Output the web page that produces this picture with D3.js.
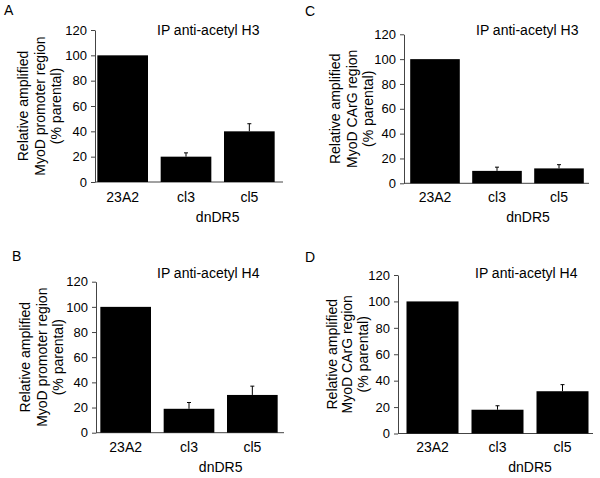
<!DOCTYPE html>
<html>
<head>
<meta charset="utf-8">
<script src="https://cdn.jsdelivr.net/npm/d3@7"></script>
<style>
  html, body { margin: 0; padding: 0; background: #fff; }
  svg { display: block; font-family: "Liberation Sans", Arial, sans-serif; }
</style>
</head>
<body>
<svg id="chart" width="600" height="478"></svg>
<script>
// ---- data ----
const categories = ["23A2", "cl3", "cl5"];
const yTicks = [0, 20, 40, 60, 80, 100, 120];
const groupLabel = "dnDR5";

const panelLetters = ["A", "B", "C", "D"];
const panelTitles = ["IP anti-acetyl H3", "IP anti-acetyl H4", "IP anti-acetyl H3", "IP anti-acetyl H4"];
const yLabelsPromoter = ["Relative amplified", "MyoD promoter region", "(% parental)"];
const yLabelsCArG = ["Relative amplified", "MyoD CArG region", "(% parental)"];

const valuesA = [100, 20, 40];
const errorsA = [0, 3, 6];
const valuesB = [100, 19, 30];
const errorsB = [0, 5, 7];
const valuesC = [100, 10, 12];
const errorsC = [0, 3, 3];
const valuesD = [100, 18, 32];
const errorsD = [0, 3, 5];

// ---- layout (positions only) ----
const layouts = [
  { letter: [4, 15],   y0: 182,   y1: 30,   axisX: 95,  axisEnd: 283, band: [91, 281],  title: [157, 35],  yl: [28, 45, 61],    catY: 202, grpY: 222 },
  { letter: [12, 261], y0: 432.7, y1: 281.7, axisX: 96, axisEnd: 284, band: [94, 284],  title: [157, 278], yl: [30, 47, 63],    catY: 452, grpY: 472 },
  { letter: [305, 16], y0: 183.3, y1: 34.3, axisX: 404, axisEnd: 589, band: [404, 590], title: [476, 35],  yl: [340, 357, 373], catY: 202, grpY: 222 },
  { letter: [305, 262], y0: 433.5, y1: 275, axisX: 398, axisEnd: 593, band: [400, 595], title: [475, 278], yl: [337, 352, 368], catY: 452, grpY: 472 }
];

const panels = [
  { values: valuesA, errors: errorsA, ylab: yLabelsPromoter },
  { values: valuesB, errors: errorsB, ylab: yLabelsPromoter },
  { values: valuesC, errors: errorsC, ylab: yLabelsCArG },
  { values: valuesD, errors: errorsD, ylab: yLabelsCArG }
];

const svg = d3.select("#chart");
const axisColor = "#444";

panels.forEach((p, i) => {
  const L = layouts[i];
  const g = svg.append("g");

  const x = d3.scaleBand().domain(categories).range(L.band).paddingInner(0.2).paddingOuter(0.1);
  const y = d3.scaleLinear().domain([0, 120]).range([L.y0, L.y1]);

  // panel letter
  g.append("text").attr("x", L.letter[0]).attr("y", L.letter[1])
    .attr("font-size", 14).attr("fill", "#000").text(panelLetters[i]);

  // title
  g.append("text").attr("x", L.title[0]).attr("y", L.title[1])
    .attr("font-size", 14).attr("fill", "#000").text(panelTitles[i]);

  // y axis
  const ax = g.append("g").attr("transform", `translate(${L.axisX},0)`)
    .call(d3.axisLeft(y).tickValues(yTicks).tickSize(4).tickSizeOuter(0).tickPadding(4));
  ax.selectAll("path, line").attr("stroke", axisColor);
  ax.selectAll("text").attr("font-size", 13).attr("fill", "#000")
    .attr("font-family", '"Liberation Sans", Arial, sans-serif');

  // x axis line
  g.append("line").attr("x1", L.axisX).attr("x2", L.axisEnd)
    .attr("y1", y(0)).attr("y2", y(0)).attr("stroke", axisColor);

  // bars
  g.selectAll("rect.bar").data(categories).enter().append("rect")
    .attr("x", d => x(d)).attr("width", x.bandwidth())
    .attr("y", (d, j) => y(p.values[j]))
    .attr("height", (d, j) => y(0) - y(p.values[j]))
    .attr("fill", "#000");

  // error bars (upper half)
  categories.forEach((c, j) => {
    if (!p.errors[j]) return;
    const cx = x(c) + x.bandwidth() / 2;
    g.append("line").attr("x1", cx).attr("x2", cx)
      .attr("y1", y(p.values[j])).attr("y2", y(p.values[j] + p.errors[j]))
      .attr("stroke", "#000").attr("stroke-width", 1);
    g.append("line").attr("x1", cx - 2).attr("x2", cx + 2)
      .attr("y1", y(p.values[j] + p.errors[j])).attr("y2", y(p.values[j] + p.errors[j]))
      .attr("stroke", "#000").attr("stroke-width", 1);
  });

  // category labels
  g.selectAll("text.cat").data(categories).enter().append("text")
    .attr("x", d => x(d) + x.bandwidth() / 2).attr("y", L.catY)
    .attr("text-anchor", "middle").attr("font-size", 14).attr("fill", "#000")
    .text(d => d);

  // group label
  const gx = (x("cl3") + x("cl5")) / 2 + x.bandwidth() / 2;
  g.append("text").attr("x", gx).attr("y", L.grpY)
    .attr("text-anchor", "middle").attr("font-size", 14).attr("fill", "#000")
    .text(groupLabel);

  // y label (three rotated lines)
  const cy = (L.y0 + L.y1) / 2;
  p.ylab.forEach((t, k) => {
    g.append("text").attr("transform", `translate(${L.yl[k]},${cy}) rotate(-90)`)
      .attr("text-anchor", "middle").attr("font-size", 14).attr("fill", "#000")
      .text(t);
  });
});
</script>
</body>
</html>
